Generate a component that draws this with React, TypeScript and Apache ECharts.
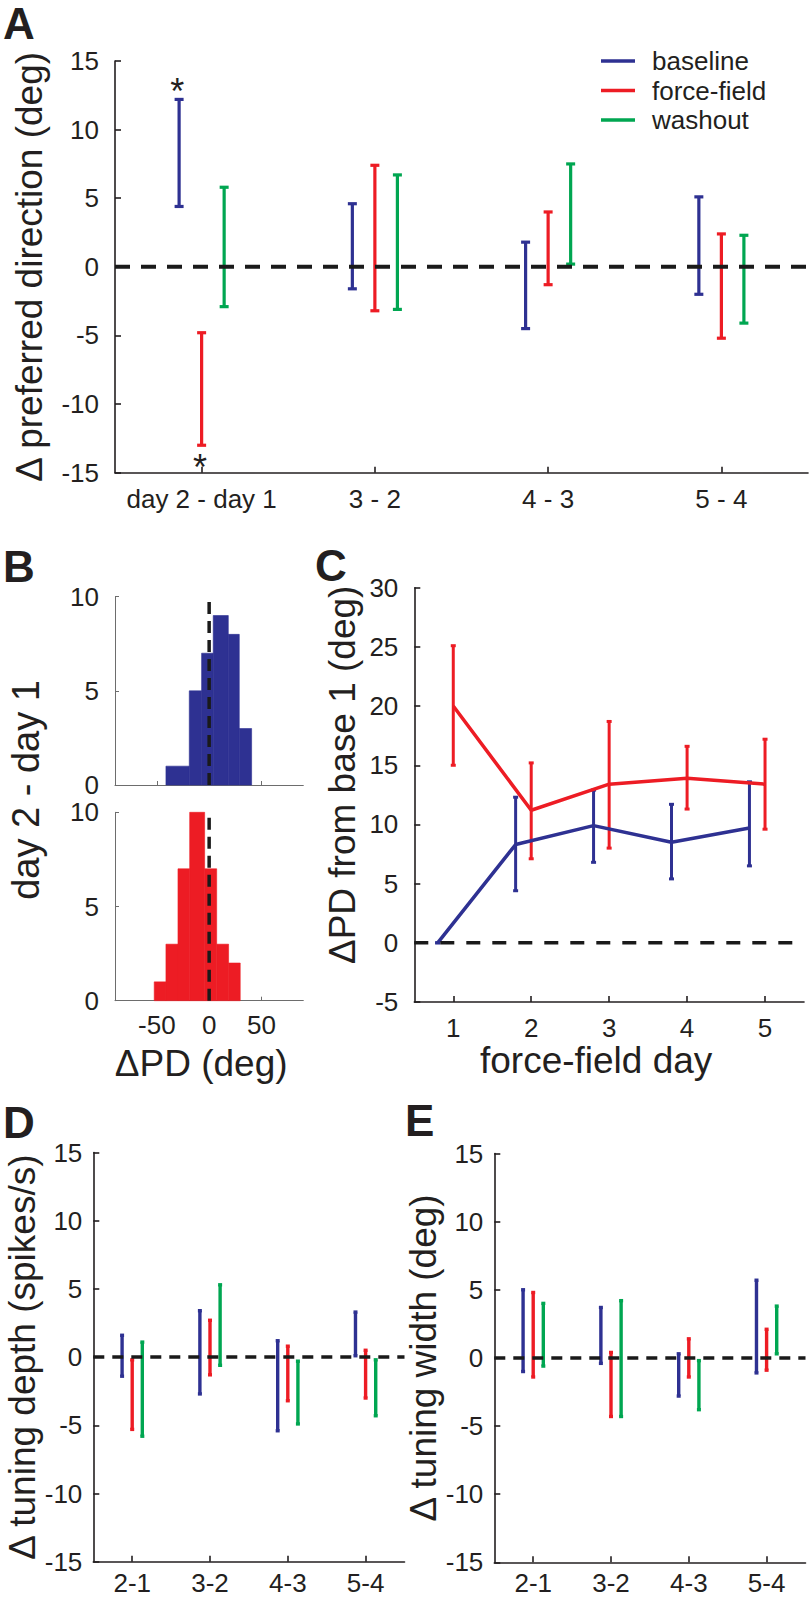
import React, { useEffect, useRef } from 'react';
import * as echarts from 'echarts';

const BLUE = '#2E3192';
const RED = '#ED1C24';
const GREEN = '#00A651';
const INK = '#231F20';
const FONT = 'Arial, "Liberation Sans", Helvetica, sans-serif';
const TICK_FS = 26;

const seriesNames = ['baseline', 'force-field', 'washout'];
const dodge = [-0.13, 0, 0.13];

// Panel A: change in preferred direction (deg), error bar low/high per day pair
const pdGroups = ['day 2 - day 1', '3 - 2', '4 - 3', '5 - 4'];
const pdBaselineLow = [4.4, -1.6, -4.5, -2.0];
const pdBaselineHigh = [12.2, 4.6, 1.8, 5.1];
const pdForceLow = [-13.0, -3.2, -1.3, -5.2];
const pdForceHigh = [-4.8, 7.4, 4.0, 2.4];
const pdWashoutLow = [-2.9, -3.1, 0.2, -4.1];
const pdWashoutHigh = [5.8, 6.7, 7.5, 2.3];
const starX = [0.86, 0.99];
const starY = [12.8, -14.6];

// Panel B: histograms of ΔPD (deg), bin edges and counts
const histTicks = [-50, 0, 50];
const histBlueLeft = [-41.3, -19.0, -7.2, 3.9, 18.3, 28.8];
const histBlueRight = [-19.0, -7.2, 3.9, 18.3, 28.8, 40.6];
const histBlueCount = [1, 5, 7, 9, 8, 3];
const histRedLeft = [-52.5, -41.3, -29.8, -18.6, -4.3, 7.2, 18.6];
const histRedRight = [-41.3, -29.8, -18.6, -4.3, 7.2, 18.6, 29.7];
const histRedCount = [1, 3, 7, 10, 7, 3, 2];

// Panel C: ΔPD from base 1 (deg) by force-field day
const ffDays = ['1', '2', '3', '4', '5'];
const cBaselineX = [0.8, 1.8, 2.8, 3.8, 4.8];
const cBaselineMean = [0, 8.3, 9.9, 8.5, 9.7];
const cBaselineLow = [0, 4.4, 6.8, 5.4, 6.5];
const cBaselineHigh = [0, 12.3, 12.9, 11.7, 13.6];
const cForceX = [1, 2, 3, 4, 5];
const cForceMean = [20.0, 11.2, 13.4, 13.9, 13.4];
const cForceLow = [15.0, 7.1, 8.0, 11.3, 9.6];
const cForceHigh = [25.1, 15.2, 18.7, 16.6, 17.2];

// Panel D: Δ tuning depth (spikes/s)
const dayPairs = ['2-1', '3-2', '4-3', '5-4'];
const depthBaselineLow = [-1.4, -2.7, -5.4, 0.1];
const depthBaselineHigh = [1.6, 3.4, 1.2, 3.3];
const depthForceLow = [-5.3, -1.3, -3.2, -3.0];
const depthForceHigh = [-0.2, 2.7, 0.8, 0.5];
const depthWashoutLow = [-5.8, -0.6, -4.9, -4.3];
const depthWashoutHigh = [1.1, 5.3, -0.3, -0.2];

// Panel E: Δ tuning width (deg)
const widthBaselineLow = [-1.0, -0.4, -2.8, -1.1];
const widthBaselineHigh = [5.0, 3.7, 0.3, 5.7];
const widthForceLow = [-1.4, -4.3, -1.4, -0.9];
const widthForceHigh = [4.8, 0.4, 1.4, 2.1];
const widthWashoutLow = [-0.6, -4.3, -3.8, 0.3];
const widthWashoutHigh = [4.0, 4.2, -0.2, 3.8];

const bars = (lows: number[], highs: number[], off: number) =>
  lows.map((lo, i) => [i + 1 + off, lo, highs[i]]);

const errorBarRender = (color: string, lineWidth: number, capHalf: number) =>
  (params: any, api: any) => {
    const x = api.value(0);
    const a = api.coord([x, api.value(1)]);
    const b = api.coord([x, api.value(2)]);
    const style = { stroke: color, lineWidth, fill: 'none' };
    return {
      type: 'group',
      children: [
        { type: 'line', shape: { x1: a[0], y1: a[1], x2: b[0], y2: b[1] }, style },
        { type: 'line', shape: { x1: a[0] - capHalf, y1: a[1], x2: a[0] + capHalf, y2: a[1] }, style },
        { type: 'line', shape: { x1: b[0] - capHalf, y1: b[1], x2: b[0] + capHalf, y2: b[1] }, style },
      ],
    };
  };

const histRender = (color: string) => (params: any, api: any) => {
  const p0 = api.coord([api.value(0), 0]);
  const p1 = api.coord([api.value(1), api.value(2)]);
  return {
    type: 'rect',
    shape: { x: p0[0], y: p1[1], width: p1[0] - p0[0], height: p0[1] - p1[1] },
    style: { fill: color, stroke: color, lineWidth: 0.6 },
  };
};

const errSeries = (name: string, color: string, data: number[][], xi: number, yi: number, lw: number, cap: number) => ({
  type: 'custom',
  name,
  xAxisIndex: xi,
  yAxisIndex: yi,
  data,
  encode: { x: 0, y: [1, 2] },
  itemStyle: { color },
  renderItem: errorBarRender(color, lw, cap),
  z: 3,
  silent: true,
});

const axisLineStyle = { color: INK, width: 1.6 };

const catAxis = (gridIndex: number, data: string[], extra: any = {}, margin = 13) => ({
  type: 'category',
  gridIndex,
  data,
  boundaryGap: true,
  axisLine: { show: true, onZero: false, lineStyle: axisLineStyle },
  axisTick: { show: true, inside: true, alignWithLabel: true, length: 6, lineStyle: axisLineStyle },
  axisLabel: { color: INK, fontSize: TICK_FS, lineHeight: TICK_FS, margin, interval: 0, fontFamily: FONT },
  splitLine: { show: false },
  ...extra,
});

const hiddenX = (gridIndex: number, min: number, max: number) => ({
  type: 'value',
  gridIndex,
  min,
  max,
  show: false,
});

const histX = (gridIndex: number, labels: boolean, extra: any = {}) => ({
  type: 'value',
  gridIndex,
  min: -90,
  max: 90,
  axisLine: { show: true, onZero: false, lineStyle: { color: '#6d6d6d', width: 1 } },
  axisTick: { show: true, inside: true, length: 4, customValues: histTicks, lineStyle: { color: '#6d6d6d', width: 1 } },
  axisLabel: { show: labels, color: INK, fontSize: TICK_FS, margin: 11, customValues: histTicks, fontFamily: FONT },
  splitLine: { show: false },
  ...extra,
});

const valY = (gridIndex: number, min: number, max: number, extra: any = {}, margin = 16) => ({
  type: 'value',
  gridIndex,
  min,
  max,
  interval: 5,
  axisLine: { show: true, onZero: false, lineStyle: axisLineStyle },
  axisTick: { show: true, inside: true, length: 6, lineStyle: axisLineStyle },
  axisLabel: { color: INK, fontSize: TICK_FS, margin, fontFamily: FONT },
  splitLine: { show: false },
  ...extra,
});

const histY = (gridIndex: number) => ({
  type: 'value',
  gridIndex,
  min: 0,
  max: 10,
  interval: 5,
  axisLine: { show: true, onZero: false, lineStyle: { color: '#6d6d6d', width: 1 } },
  axisTick: { show: true, inside: true, length: 4, lineStyle: { color: '#6d6d6d', width: 1 } },
  axisLabel: { color: INK, fontSize: TICK_FS, margin: 16, fontFamily: FONT },
  splitLine: { show: false },
});

const yName = (name: string, gap: number, padding: number[] = [0, 0, 0, 0]) => ({
  name,
  nameLocation: 'middle',
  nameRotate: 90,
  nameGap: gap,
  nameTextStyle: { fontSize: 37, color: INK, fontFamily: FONT, padding },
});

const zeroLine = (xi: number, yi: number, from: number, to: number, width: number, dash: number[]) => ({
  type: 'line',
  xAxisIndex: xi,
  yAxisIndex: yi,
  data: [[from, 0], [to, 0]],
  symbol: 'none',
  silent: true,
  lineStyle: { color: '#1a1a1a', width, type: dash },
  z: 6,
});

const letter = (text: string, x: number, y: number) => ({
  type: 'text',
  x,
  y,
  style: { text, fontSize: 44, fontWeight: 'bold', fill: INK, fontFamily: FONT, align: 'left', verticalAlign: 'middle' },
});

export default function App() {
  const ref = useRef<HTMLDivElement>(null);
  useEffect(() => {
    document.body.style.margin = '0';
    const chart = echarts.init(ref.current as HTMLDivElement, null, { renderer: 'svg', width: 810, height: 1598 });
    const option: any = {
      animation: false,
      color: [BLUE, RED, GREEN],
      textStyle: { fontFamily: FONT },
      grid: [
        { left: 115, top: 61, width: 693, height: 411.7 },
        { left: 115, top: 596.7, width: 188.3, height: 188.3 },
        { left: 115, top: 812.3, width: 188.3, height: 188.4 },
        { left: 414.3, top: 587.7, width: 389.7, height: 414.3 },
        { left: 93.3, top: 1152.5, width: 311.2, height: 409.2 },
        { left: 494.3, top: 1153.5, width: 311.2, height: 408.8 },
      ],
      legend: {
        orient: 'vertical',
        left: 601,
        top: 46.3,
        padding: 0,
        itemGap: 0,
        itemWidth: 34,
        itemHeight: 3.5,
        icon: 'rect',
        selectedMode: false,
        data: seriesNames,
        textStyle: { fontSize: 26, color: INK, lineHeight: 29.5, fontFamily: FONT, padding: [0, 0, 0, 12] },
      },
      xAxis: [
        catAxis(0, pdGroups),
        hiddenX(0, 0.5, 4.5),
        histX(1, false),
        histX(2, true, {
          name: 'ΔPD (deg)',
          nameLocation: 'middle',
          nameGap: 44,
          nameTextStyle: { fontSize: 37, color: INK, fontFamily: FONT, padding: [0, 16, 0, 0] },
        }),
        catAxis(3, ffDays, {
          name: 'force-field day',
          nameLocation: 'middle',
          nameGap: 39,
          nameTextStyle: { fontSize: 37, color: INK, fontFamily: FONT, padding: [0, 26, 0, 0] },
        }),
        hiddenX(3, 0.5, 5.5),
        catAxis(4, dayPairs, {}, 8),
        hiddenX(4, 0.5, 4.5),
        catAxis(5, dayPairs, {}, 8),
        hiddenX(5, 0.5, 4.5),
      ],
      yAxis: [
        valY(0, -15, 15, yName('Δ preferred direction (deg)', 67)),
        histY(1),
        histY(2),
        valY(3, -5, 30, yName('ΔPD from base 1 (deg)', 53, [0, 0, 0, 40])),
        valY(4, -15, 15, yName('Δ tuning depth (spikes/s)', 47), 11),
        valY(5, -15, 15, yName('Δ tuning width (deg)', 45), 11),
      ],
      series: [
        // Panel A
        errSeries(seriesNames[0], BLUE, bars(pdBaselineLow, pdBaselineHigh, dodge[0]), 1, 0, 3.2, 4.5),
        errSeries(seriesNames[1], RED, bars(pdForceLow, pdForceHigh, dodge[1]), 1, 0, 3.2, 4.5),
        errSeries(seriesNames[2], GREEN, bars(pdWashoutLow, pdWashoutHigh, dodge[2]), 1, 0, 3.2, 4.5),
        zeroLine(1, 0, 0.5, 4.5, 4, [15, 11]),
        {
          type: 'custom',
          name: 'significance',
          xAxisIndex: 1,
          yAxisIndex: 0,
          data: starX.map((x, i) => [x, starY[i]]),
          encode: { x: 0, y: 1 },
          silent: true,
          renderItem: (params: any, api: any) => {
            const p = api.coord([api.value(0), api.value(1)]);
            return {
              type: 'text',
              x: p[0],
              y: p[1],
              style: { text: '*', fontSize: 36, fill: INK, align: 'center', verticalAlign: 'middle', fontFamily: FONT },
            };
          },
        },
        // Panel B
        {
          type: 'custom',
          name: 'day 2 - day 1 baseline',
          xAxisIndex: 2,
          yAxisIndex: 1,
          data: histBlueLeft.map((l, i) => [l, histBlueRight[i], histBlueCount[i]]),
          encode: { x: [0, 1], y: 2 },
          silent: true,
          renderItem: histRender(BLUE),
        },
        {
          type: 'line', xAxisIndex: 2, yAxisIndex: 1, data: [[0, 0], [0, 10]], symbol: 'none', silent: true,
          lineStyle: { color: '#1a1a1a', width: 3.5, type: [12, 7] }, z: 6,
        },
        {
          type: 'custom',
          name: 'day 2 - day 1 force-field',
          xAxisIndex: 3,
          yAxisIndex: 2,
          data: histRedLeft.map((l, i) => [l, histRedRight[i], histRedCount[i]]),
          encode: { x: [0, 1], y: 2 },
          silent: true,
          renderItem: histRender(RED),
        },
        {
          type: 'line', xAxisIndex: 3, yAxisIndex: 2, data: [[0, 0], [0, 10]], symbol: 'none', silent: true,
          lineStyle: { color: '#1a1a1a', width: 3.5, type: [12, 7] }, z: 6,
        },
        // Panel C
        zeroLine(5, 3, 0.5, 5.5, 3.5, [14, 12]),
        {
          type: 'line', name: 'baseline', xAxisIndex: 5, yAxisIndex: 3,
          data: cBaselineX.map((x, i) => [x, cBaselineMean[i]]),
          symbol: 'none', silent: true, lineStyle: { color: BLUE, width: 3.5 }, z: 4,
        },
        {
          type: 'line', name: 'force-field', xAxisIndex: 5, yAxisIndex: 3,
          data: cForceX.map((x, i) => [x, cForceMean[i]]),
          symbol: 'none', silent: true, lineStyle: { color: RED, width: 3.5 }, z: 4,
        },
        errSeries('baseline', BLUE, cBaselineX.map((x, i) => [x, cBaselineLow[i], cBaselineHigh[i]]), 5, 3, 3, 2.5),
        errSeries('force-field', RED, cForceX.map((x, i) => [x, cForceLow[i], cForceHigh[i]]), 5, 3, 3, 2.5),
        // Panel D
        errSeries(seriesNames[0], BLUE, bars(depthBaselineLow, depthBaselineHigh, dodge[0]), 7, 4, 3.4, 2),
        errSeries(seriesNames[1], RED, bars(depthForceLow, depthForceHigh, dodge[1]), 7, 4, 3.4, 2),
        errSeries(seriesNames[2], GREEN, bars(depthWashoutLow, depthWashoutHigh, dodge[2]), 7, 4, 3.4, 2),
        zeroLine(7, 4, 0.5, 4.5, 3.5, [11, 8]),
        // Panel E
        errSeries(seriesNames[0], BLUE, bars(widthBaselineLow, widthBaselineHigh, dodge[0]), 9, 5, 3.4, 2),
        errSeries(seriesNames[1], RED, bars(widthForceLow, widthForceHigh, dodge[1]), 9, 5, 3.4, 2),
        errSeries(seriesNames[2], GREEN, bars(widthWashoutLow, widthWashoutHigh, dodge[2]), 9, 5, 3.4, 2),
        zeroLine(9, 5, 0.5, 4.5, 3.5, [11, 8]),
      ],
      graphic: [
        letter('A', 3, 23),
        letter('B', 3, 566),
        letter('C', 315, 565),
        letter('D', 3, 1122),
        letter('E', 405, 1120),
        {
          type: 'text',
          x: 26,
          y: 790,
          rotation: Math.PI / 2,
          style: { text: 'day 2 - day 1', fontSize: 38, fill: INK, fontFamily: FONT, align: 'center', verticalAlign: 'middle' },
        },
      ],
    };
    chart.setOption(option);
    return () => chart.dispose();
  }, []);
  return (
    <div
      ref={ref}
      style={{ position: 'absolute', left: 0, top: 0, width: 810, height: 1598, background: '#fff' }}
    />
  );
}
